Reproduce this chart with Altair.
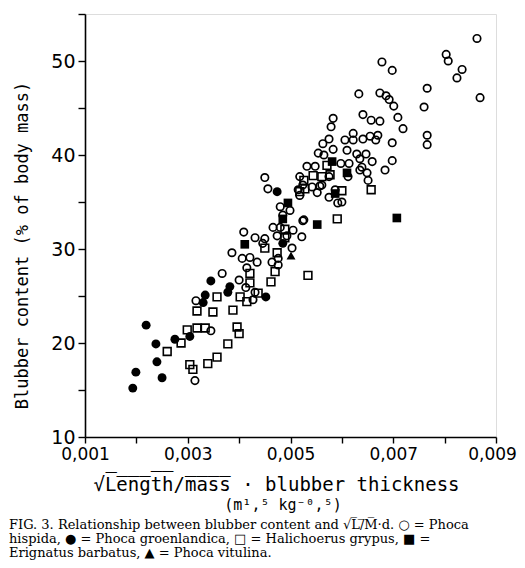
import altair as alt
import pandas as pd

# ---- data ----
# Phoca hispida (open circles)
hisp_x = [0.00863, 0.00803, 0.00807, 0.00834, 0.00824, 0.00869,
          0.00678, 0.00698, 0.00766, 0.00760, 0.00766, 0.00766,
          0.00633, 0.00674, 0.00686, 0.00692, 0.00701,
          0.00641, 0.00657, 0.00674, 0.00709, 0.00719,
          0.00583, 0.00579, 0.00575, 0.00563,
          0.00622, 0.00606, 0.00622, 0.00641, 0.00655, 0.00670, 0.00666, 0.00698,
          0.00554, 0.00565, 0.00583, 0.00610, 0.00629, 0.00647,
          0.00659, 0.00635, 0.00614, 0.00598,
          0.00532, 0.00548, 0.00639, 0.00698, 0.00684, 0.00649, 0.00635,
          0.00612, 0.00518, 0.00524, 0.00542, 0.00557, 0.00575,
          0.00575, 0.00600, 0.00526, 0.00651, 0.00552, 0.00515, 0.00518,
          0.00450, 0.00456, 0.00561, 0.00587, 0.00592,
          0.00480, 0.00499, 0.00485, 0.00524,
          0.00466, 0.00480, 0.00505, 0.00409, 0.00522,
          0.00431, 0.00450, 0.00474, 0.00493, 0.00446, 0.00503,
          0.00386, 0.00406, 0.00421, 0.00435, 0.00415, 0.00464, 0.00476, 0.00476,
          0.00367, 0.00400, 0.00413, 0.00431, 0.00427, 0.00316, 0.00345, 0.00314]
hisp_y = [52.4, 50.7, 50.0, 49.1, 48.2, 46.1,
          49.9, 49.0, 47.1, 45.1, 42.1, 41.1,
          46.5, 46.6, 46.3, 45.9, 45.2,
          44.3, 43.7, 43.6, 44.0, 42.8,
          43.9, 43.0, 41.7, 41.2,
          42.3, 41.6, 41.6, 41.7, 42.0, 42.1, 41.6, 41.3,
          40.2, 40.0, 40.6, 40.5, 40.1, 40.1,
          39.3, 39.6, 39.1, 39.1,
          38.8, 38.8, 38.7, 39.4, 38.4, 38.1, 38.4,
          37.7, 37.7, 36.8, 36.6, 36.7, 37.7,
          35.5, 35.0, 33.1, 37.3, 36.0, 36.3, 35.7,
          37.6, 36.4, 36.8, 36.3, 34.9,
          34.5, 34.1, 33.6, 33.0,
          32.3, 32.3, 32.0, 31.8, 31.3,
          31.2, 31.1, 31.4, 31.4, 30.6, 30.1,
          29.6, 29.0, 29.1, 28.6, 28.0, 28.6, 29.0, 28.3,
          27.4, 26.7, 25.9, 25.4, 24.6, 24.5, 21.3, 16.0]

# Phoca groenlandica (filled circles)
groen_x = [0.00193, 0.00199, 0.00219, 0.00238, 0.00240, 0.00250, 0.00275,
           0.00304, 0.00330, 0.00334, 0.00345, 0.00382, 0.00378, 0.00452,
           0.00474, 0.00485]
groen_y = [15.2, 16.9, 21.9, 19.9, 18.0, 16.3, 20.4,
           20.7, 24.3, 25.1, 26.6, 26.0, 25.4, 24.9,
           36.1, 30.6]

# Halichoerus grypus (open squares)
hali_x = [0.00260, 0.00287, 0.00299, 0.00318, 0.00334, 0.00318, 0.00349, 0.00388,
          0.00357, 0.00396, 0.00400, 0.00378, 0.00357, 0.00339, 0.00304, 0.00310,
          0.00402, 0.00415, 0.00437, 0.00421, 0.00421, 0.00462, 0.00470, 0.00450,
          0.00474, 0.00489, 0.00489, 0.00534, 0.00518, 0.00526, 0.00544, 0.00561,
          0.00571, 0.00528, 0.00591, 0.00657, 0.00600, 0.00577]
hali_y = [19.1, 20.0, 21.4, 21.6, 21.6, 23.4, 23.3, 23.5,
          24.9, 21.7, 21.0, 19.9, 18.5, 17.8, 17.7, 17.2,
          24.9, 24.4, 25.3, 26.4, 27.4, 26.5, 27.6, 30.1,
          29.6, 32.1, 31.2, 27.2, 36.1, 37.3, 37.8, 37.7,
          38.9, 36.4, 33.2, 36.3, 36.2, 37.9]

# Erignathus barbatus (filled squares)
erig_x = [0.00411, 0.00495, 0.00485, 0.00552, 0.00707, 0.00581, 0.00610, 0.00587]
erig_y = [30.5, 34.9, 33.2, 32.6, 33.3, 39.3, 38.1, 35.9]

# Phoca vitulina (filled triangle)
vitu_x = [0.00501]
vitu_y = [29.3]

x_ticks = [0.001, 0.002, 0.003, 0.004, 0.005, 0.006, 0.007, 0.008, 0.009]
y_ticks = [10, 15, 20, 25, 30, 35, 40, 45, 50, 55]

caption_lines = [
    "FIG. 3. Relationship between blubber content and \u221aL\u0305/\u0305M\u0305\u00b7d. \u25cb = Phoca",
    "hispida, \u25cf = Phoca groenlandica, \u25a1 = Halichoerus grypus, \u25a0 =",
    "Erignatus barbatus, \u25b2 = Phoca vitulina.",
]
x_title = "\u221aL\u0305e\u0305n\u0305g\u0305t\u0305h\u0305/\u0305m\u0305a\u0305s\u0305s\u0305 \u00b7 blubber thickness"
unit_text = "(m\u00b9\u002c\u2075 kg\u207b\u2070\u002c\u2075)"

# ---- build ----
W, H = 411, 423
MONO = "DejaVu Sans Mono"
SANS = "DejaVu Sans"

xscale = alt.Scale(domain=[0.001, 0.009], nice=False, zero=False)
yscale = alt.Scale(domain=[10, 55], nice=False, zero=False)

xaxis = alt.Axis(values=x_ticks, grid=False, domainColor="black", domainWidth=1.6,
                 tickColor="black", tickWidth=1.4, tickSize=6,
                 labelExpr="round(datum.value*1000) % 2 == 1 ? replace(format(datum.value, '.3f'), '.', ',') : ''",
                 labelFont=SANS, labelFontSize=17, labelColor="black", labelPadding=3,
                 labelOffset={"condition": {"test": "datum.value > 0.0085", "value": -4}, "value": 0},
                 labelFlush=False, labelOverlap=False,
                 title=x_title, titleFont=MONO, titleFontSize=19, titleFontWeight="normal",
                 titleColor="black", titleX=191, titleY=53, titleAnchor="middle",
                 titleBaseline="alphabetic")
yaxis = alt.Axis(values=y_ticks, grid=False, domainColor="black", domainWidth=1.6,
                 tickColor="black", tickWidth=1.4, tickSize=7,
                 labelExpr="datum.value % 10 == 0 ? datum.value : ''",
                 labelFont=SANS, labelFontSize=19, labelColor="black", labelPadding=3,
                 labelFlush=False, labelOverlap=False,
                 title="Blubber content  (% of body mass)", titleFont=MONO,
                 titleFontSize=17, titleFontWeight="normal", titleColor="black",
                 titleX=-63, titleY=231, titleAngle=-90, titleAlign="center",
                 titleBaseline="middle")


def df(xs, ys):
    return pd.DataFrame({"x": xs, "y": ys})


hisp = alt.Chart(df(hisp_x, hisp_y)).mark_point(
    shape="circle", filled=False, color="black", strokeWidth=1.7, size=55, opacity=1
).encode(x=alt.X("x:Q", scale=xscale, axis=xaxis),
         y=alt.Y("y:Q", scale=yscale, axis=yaxis))
hali = alt.Chart(df(hali_x, hali_y)).mark_point(
    shape="square", filled=False, color="black", strokeWidth=1.6, size=60, opacity=1
).encode(x="x:Q", y="y:Q")
groen = alt.Chart(df(groen_x, groen_y)).mark_point(
    shape="circle", filled=True, color="black", size=80, opacity=1
).encode(x="x:Q", y="y:Q")
erig = alt.Chart(df(erig_x, erig_y)).mark_point(
    shape="square", filled=True, color="black", size=75, opacity=1
).encode(x="x:Q", y="y:Q")
vitu = alt.Chart(df(vitu_x, vitu_y)).mark_point(
    shape="triangle-up", filled=True, color="black", size=80, opacity=1
).encode(x="x:Q", y="y:Q")

unit = alt.Chart(pd.DataFrame({"t": [unit_text]})).mark_text(
    font=MONO, fontSize=15, align="center", baseline="alphabetic", color="black"
).encode(text="t:N", x=alt.value(198), y=alt.value(496))

cap_layers = []
for i, line in enumerate(caption_lines):
    cap_layers.append(
        alt.Chart(pd.DataFrame({"t": [line]})).mark_text(
            font="DejaVu Serif", fontSize=13, align="left", baseline="alphabetic",
            color="black"
        ).encode(text="t:N", x=alt.value(-76), y=alt.value(515 + 14 * i))
    )

chart = alt.layer(hisp, hali, groen, erig, vitu, unit, *cap_layers).properties(
    width=W, height=H,
    autosize=alt.AutoSizeParams(type="none"),
    padding={"left": 77, "top": 6, "right": 21, "bottom": 123},
).configure_view(stroke=None).configure(background="white")

chart.save("out.html", embed_options={"renderer": "svg", "actions": False})
